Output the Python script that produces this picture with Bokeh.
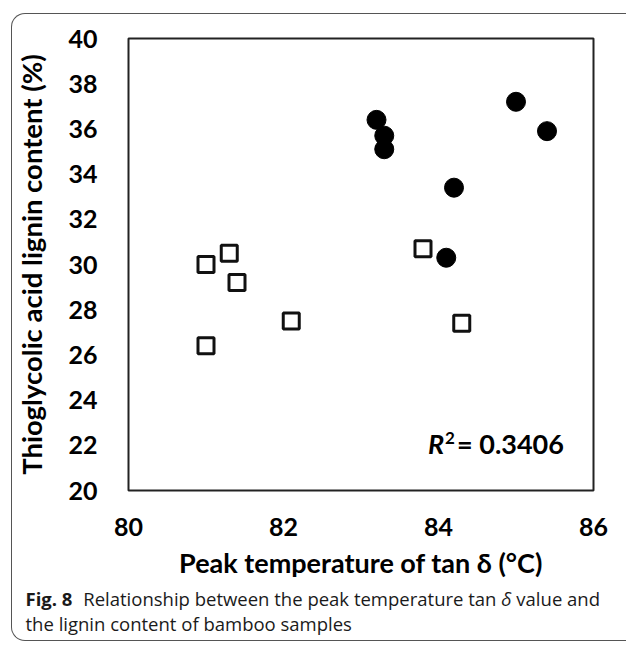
from bokeh.plotting import figure
from bokeh.layouts import column
from bokeh.models import Range1d, FixedTicker, Label, Div
from bokeh.embed import file_html
from bokeh.resources import INLINE

# ---- data ----
circle_x = [83.2, 83.3, 83.3, 85.0, 85.4, 84.2, 84.1]
circle_y = [36.4, 35.7, 35.1, 37.2, 35.9, 33.4, 30.3]
square_x = [81.0, 81.3, 81.4, 82.1, 81.0, 83.8, 84.3]
square_y = [30.0, 30.5, 29.2, 27.5, 26.4, 30.7, 27.4]
x_ticks = [80, 82, 84, 86]
y_ticks = [20, 22, 24, 26, 28, 30, 32, 34, 36, 38, 40]
x_title = "Peak temperature of tan δ (°C)"
y_title = "Thioglycolic acid lignin content (%)"
r2_value = "= 0.3406"
cap_bold = "Fig. 8"
cap_line1 = "Relationship between the peak temperature tan"
cap_delta = "δ"
cap_line1_end = "value and"
cap_line2 = "the lignin content of bamboo samples"

FONT = "Lato"

# page position of the canvas (box margin + border; Bokeh's page has no body margin)
BOX_L, BOX_T, BW = 11, 13, 1.5
OX, OY = BOX_L + BW, BOX_T + BW
W = 614
HP = 574          # main figure height
HC = 52           # caption height
FL, FT, FR, FB = 114, 24, 581, 476   # frame edges in canvas px

p = figure(width=W, height=HP, output_backend="svg", toolbar_location=None,
           x_range=Range1d(80, 86), y_range=Range1d(20, 40),
           min_border_left=FL, min_border_right=W - FR,
           min_border_top=FT, min_border_bottom=HP - FB)
p.xgrid.visible = False
p.ygrid.visible = False
p.outline_line_color = "#222222"
p.outline_line_width = 2
p.background_fill_color = "white"
p.border_fill_color = None

for ax in (p.xaxis[0], p.yaxis[0]):
    ax.axis_line_color = None
    ax.major_tick_line_color = None
    ax.minor_tick_line_color = None
    ax.major_label_text_font = FONT
    ax.major_label_text_font_style = "bold"
    ax.major_label_text_font_size = "25px"
    ax.major_label_text_color = "black"
    ax.axis_label_text_font = FONT
    ax.axis_label_text_font_style = "bold"
    ax.axis_label_text_color = "black"
p.xaxis.axis_label_text_font_size = "27px"
p.yaxis.axis_label_text_font_size = "27.5px"

p.xaxis.ticker = FixedTicker(ticks=x_ticks)
p.yaxis.ticker = FixedTicker(ticks=y_ticks)
p.xaxis.axis_label = x_title
p.yaxis.axis_label = y_title
p.xaxis.major_label_standoff = 21
p.yaxis.major_label_standoff = 25
p.xaxis.axis_label_standoff = 7
p.yaxis.axis_label_standoff = 17

p.scatter(circle_x, circle_y, marker="circle", size=19,
          fill_color="black", line_color="black")
p.scatter(square_x, square_y, marker="square", size=16,
          fill_color="white", line_color="#111111", line_width=3)


def main_label(px, py, text, size, style):
    p.add_layout(Label(x=px - OX - FL, y=FB - (py - OY), x_units="screen", y_units="screen",
                       text=text, text_font=FONT, text_font_size=size,
                       text_font_style=style, text_color="black",
                       text_baseline="alphabetic", text_align="left"))


main_label(426, 443, "R", "27px", "bold italic")
main_label(443, 438, "2", "17px", "bold")
main_label(455, 443, r2_value, "27px", "bold")

# caption
cap_html = (
    '<div style="font-family:\'Open Sans\',sans-serif;font-size:18.5px;line-height:25px;'
    'color:#1a1a1a;white-space:nowrap;padding-left:%.1fpx;margin-top:-2px;">'
    '<b style="margin-right:6px;">%s</b> %s <i>%s</i> %s<br>%s</div>'
    % (26 - OX, cap_bold, cap_line1, cap_delta, cap_line1_end, cap_line2)
)
caption = Div(text=cap_html, width=W, height=HC, margin=0)

box = "%.1fpx solid #555555" % BW
layout = column(p, caption, spacing=0, styles={
    "border-left": box, "border-top": box, "border-bottom": box,
    "border-top-left-radius": "14px", "border-bottom-left-radius": "14px",
    "margin": "%dpx 0px 0px %dpx" % (BOX_T, BOX_L), "background-color": "white"})

open("out.html", "w").write(file_html(layout, INLINE))
